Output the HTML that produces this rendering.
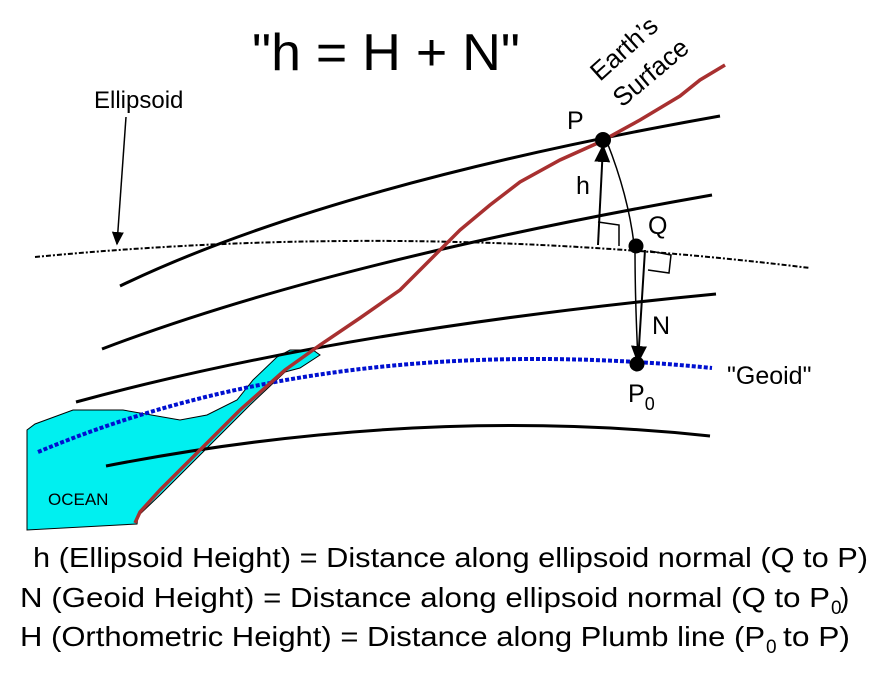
<!DOCTYPE html>
<html><head><meta charset="utf-8"><style>body{margin:0;background:#fff}svg{display:block}text{font-family:"Liberation Sans",sans-serif;fill:#000}</style></head>
<body>
<svg width="880" height="680" viewBox="0 0 880 680">
<defs><marker id="ah" markerWidth="10" markerHeight="10" refX="8" refY="5" orient="auto"><path d="M0,1 L9,5 L0,9 Z" fill="#000"/></marker></defs>
<path d="M27,530 L27,430 L35,424 L73,410 L123,410 L180,420 L207,415 L237,400 L253,380 L277,357 L290,350 L313,350 L320,355 L300,368 L285,372 L250,405 L200,455 L160,495 L138,516 L137,524 Z" fill="#00f0f0" stroke="#000" stroke-width="1"/>
<g fill="none" stroke="#000" stroke-width="3">
<path d="M120,286 Q330,185 720,116"/>
<path d="M102,349 Q330,262 712,195"/>
<path d="M76,402 Q340,330 716,294"/>
<path d="M106,466 Q420,405 710,436"/>
</g>
<path d="M35,257 Q420,220 810,268" fill="none" stroke="#000" stroke-width="2" stroke-dasharray="5,2,2,2"/>
<path d="M38,452 Q330,330 712,368" fill="none" stroke="#0010d0" stroke-width="4" stroke-dasharray="4,2"/>
<path d="M135,523 L140,512 L160,490 L200,450 L240,410 L285,370 L320,345 L360,318 L400,290 L430,260 L460,230 L490,205 L520,182 L560,160 L600,142 L640,120 L680,96 L700,80 L725,65" fill="none" stroke="#a83030" stroke-width="3.5"/>
<line x1="126" y1="117" x2="117" y2="244" stroke="#000" stroke-width="1.5" marker-end="url(#ah)"/>
<line x1="598" y1="245" x2="603" y2="146" stroke="#000" stroke-width="2" marker-end="url(#ah)"/>
<path d="M598,222 L619,225 L619,246" fill="none" stroke="#000" stroke-width="1.5"/>
<path d="M607,142 Q628,195 634,244" fill="none" stroke="#000" stroke-width="1.5"/>
<path d="M635,250 Q635,300 638,360" fill="none" stroke="#000" stroke-width="1.5"/>
<line x1="645" y1="250" x2="638" y2="362" stroke="#000" stroke-width="2" marker-end="url(#ah)"/>
<path d="M650,251 L671,255 L669,273 L648,270" fill="none" stroke="#000" stroke-width="1.5"/>
<circle cx="603" cy="140" r="8" fill="#000"/>
<circle cx="636" cy="246" r="7.5" fill="#000"/>
<circle cx="637" cy="364" r="7.5" fill="#000"/>
<text x="252" y="70" font-size="52" textLength="268" lengthAdjust="spacingAndGlyphs">"h = H + N"</text>
<text x="94" y="108" font-size="24">Ellipsoid</text>
<text transform="translate(600,82) rotate(-42)" font-size="26">Earth’s</text>
<text transform="translate(622,108) rotate(-40)" font-size="26">Surface</text>
<text x="567" y="129" font-size="25">P</text>
<text x="576" y="194" font-size="25">h</text>
<text x="648" y="234" font-size="25">Q</text>
<text x="652" y="334" font-size="25">N</text>
<text x="727" y="384" font-size="25">"Geoid"</text>
<text x="628" y="402" font-size="25">P<tspan font-size="18" dy="8">0</tspan></text>
<text x="48" y="505" font-size="17">OCEAN</text>
<text x="33" y="567" font-size="28" textLength="835" lengthAdjust="spacingAndGlyphs">h (Ellipsoid Height) = Distance along ellipsoid normal (Q to P)</text>
<g>
<text x="20" y="607" font-size="28" textLength="810" lengthAdjust="spacingAndGlyphs">N (Geoid Height) = Distance along ellipsoid normal (Q to P</text>
<text x="831" y="614" font-size="19">0</text>
<text x="840" y="607" font-size="28">)</text>
</g>
<g>
<text x="20" y="646" font-size="28" textLength="745" lengthAdjust="spacingAndGlyphs">H (Orthometric Height) = Distance along Plumb line (P</text>
<text x="766" y="653" font-size="19">0</text>
<text x="783" y="646" font-size="28" textLength="67" lengthAdjust="spacingAndGlyphs">to P)</text>
</g>
</svg>
</body></html>
